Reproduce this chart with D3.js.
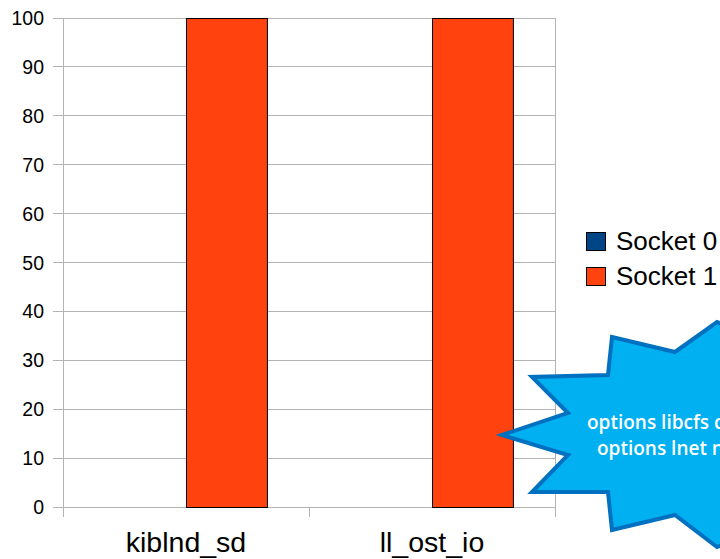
<!DOCTYPE html>
<html><head><meta charset="utf-8">
<script src="https://cdn.jsdelivr.net/npm/d3@7"></script>
<style>body{margin:0;background:#fff}svg{display:block}</style>
</head><body>
<svg id="c" width="720" height="559"></svg>
<script>
const categories = ["kiblnd_sd", "ll_ost_io"];
const seriesNames = ["Socket 0", "Socket 1"];
const socket0 = [0, 0];
const socket1 = [100, 100];
const yTicks = [0,10,20,30,40,50,60,70,80,90,100];
const colors = ["#004586", "#ff420e"];
const calloutLines = ["options libcfs cpu_npartitions=2", "options lnet networks=o2ib0"];

const svg = d3.select("#c");
const m = {l:63, r:555, t:18, b:507};
const x0 = d3.scaleBand().domain(categories).range([m.l, m.r]).paddingInner(0).paddingOuter(0);
const x1 = d3.scaleBand().domain(seriesNames).range([0, x0.bandwidth()]).paddingInner(0.0).paddingOuter(0.52);
const y = d3.scaleLinear().domain([0,100]).range([m.b, m.t]);
const grid = "#b3b3b3";

svg.append("g").selectAll("line").data(yTicks).join("line")
  .attr("x1", m.l-10).attr("x2", m.r).attr("y1", d=>y(d)).attr("y2", d=>y(d))
  .attr("stroke", grid).attr("stroke-width",1).attr("shape-rendering","crispEdges");
svg.append("line").attr("x1",m.l).attr("x2",m.l).attr("y1",m.t).attr("y2",m.b+10).attr("stroke",grid).attr("shape-rendering","crispEdges");
svg.append("line").attr("x1",m.r).attr("x2",m.r).attr("y1",m.t).attr("y2",m.b+10).attr("stroke",grid).attr("shape-rendering","crispEdges");
const catTicks = categories.map(c=>x0(c)).concat([m.r]);
svg.append("g").selectAll("line").data(catTicks).join("line")
  .attr("x1",d=>d).attr("x2",d=>d).attr("y1",m.b).attr("y2",m.b+10)
  .attr("stroke",grid).attr("shape-rendering","crispEdges");

svg.append("g").selectAll("text").data(yTicks).join("text")
  .attr("x", 44).attr("y", d=>y(d)+7).attr("text-anchor","end")
  .attr("font-family","Liberation Sans, Arial, sans-serif").attr("font-size",19.5).attr("fill","#000")
  .text(d=>d);

const series = [socket0, socket1];
categories.forEach((c,i)=>{
  seriesNames.forEach((s,j)=>{
    const v = series[j][i];
    if (v <= 0) return;
    svg.append("rect")
      .attr("x", x0(c)+x1(s)+0.5).attr("y", y(v)+0.5)
      .attr("width", x1.bandwidth()).attr("height", y(0)-y(v))
      .attr("fill", colors[j]).attr("stroke","#000").attr("stroke-width",1);
  });
});

svg.append("g").selectAll("text").data(categories).join("text")
  .attr("x", d=>x0(d)+x0.bandwidth()/2).attr("y", 552).attr("text-anchor","middle")
  .attr("font-family","Liberation Sans, Arial, sans-serif").attr("font-size",28.5).attr("fill","#000")
  .text(d=>d);

const lg = svg.append("g");
seriesNames.forEach((s,j)=>{
  lg.append("rect").attr("x",586.5).attr("y",232.5+j*35).attr("width",19).attr("height",18)
    .attr("fill",colors[j]).attr("stroke","#000").attr("stroke-width",1);
  lg.append("text").attr("x",616).attr("y",250+j*35)
    .attr("font-family","Liberation Sans, Arial, sans-serif").attr("font-size",26).attr("fill","#000")
    .text(s);
});

const star = [[502,435],[568,413],[532,377],[608,375],[612,337],[675,352],[717,322],[760,340],[760,530],[717,547],[675,515],[612,530],[608,492],[532,492],[568,455]];
svg.append("polygon").attr("points", star.map(p=>p.join(",")).join(" "))
  .attr("fill","#00b0f0").attr("stroke","#0070c0").attr("stroke-width",4).attr("stroke-linejoin","miter");
svg.append("text").attr("x",587).attr("y",429)
  .attr("font-family","Open Sans, sans-serif").attr("font-weight",600).attr("font-size",19).attr("fill","#fff")
  .text(calloutLines[0]);
svg.append("text").attr("x",597).attr("y",455)
  .attr("font-family","Open Sans, sans-serif").attr("font-weight",600).attr("font-size",19).attr("fill","#fff")
  .text(calloutLines[1]);
</script>
</body></html>
